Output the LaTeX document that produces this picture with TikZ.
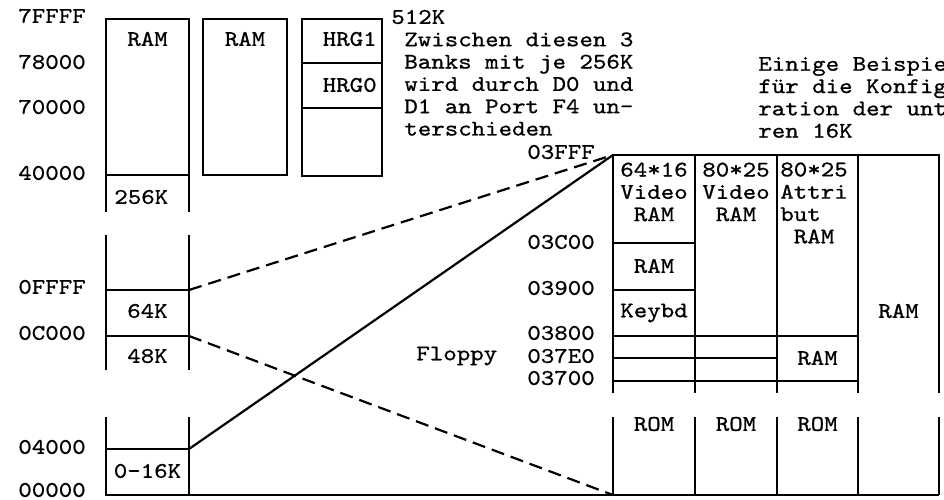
\documentclass[tikz,border=0pt]{standalone}
\usepackage{fontspec}
\setmonofont{lmmono10-regular.otf}[FakeStretch=1.15, FakeBold=0.8]
\begin{document}
\begin{tikzpicture}[x=0.02cm, y=-0.02cm,
    mono/.style={font=\ttfamily\fontsize{12.7}{12.7}\selectfont, inner sep=0pt},
    addr/.style={mono, anchor=west},
    cell/.style={mono, align=center},
    mem/.style={line width=1.25pt},
    link/.style={line width=1.25pt, dash pattern=on 7.5pt off 4pt}
]
\useasboundingbox (0,0) rectangle (944,500);

\node[addr] (a7FFFF) at (18,16) {7FFFF};
\node[addr] (a78000) at (18,62) {78000};
\node[addr] (a70000) at (18,107) {70000};
\node[addr] (a40000) at (18,173) {40000};
\node[addr] (a0FFFF) at (18,287) {0FFFF};
\node[addr] (a0C000) at (18,333) {0C000};
\node[addr] (a04000) at (18,447) {04000};
\node[addr] (a00000) at (18,490) {00000};

\draw[mem] (106,212) -- (106,19) -- (189,19) -- (189,212);
\draw[mem] (106,175) -- (189,175);
\draw[mem] (203,19) rectangle (287,175);
\draw[mem] (302,19) rectangle (382,176);
\draw[mem] (302,63) -- (382,63);
\draw[mem] (302,108) -- (382,108);
\draw[mem] (106,235) -- (106,370);
\draw[mem] (189,235) -- (189,370);
\draw[mem] (106,290) -- (189,290);
\draw[mem] (106,336) -- (189,336);
\draw[mem] (106,417) -- (106,495) -- (939,495);
\draw[mem] (189,417) -- (189,495);
\draw[mem] (106,449) -- (189,449);

\node[cell] (ram1) at (147.5,39) {RAM};
\node[cell] (ram2) at (245,39) {RAM};
\node[mono, anchor=east] (hrg1) at (377,39) {HRG1};
\node[mono, anchor=east] (hrg0) at (377,85) {HRG0};
\node[addr] (k256) at (114,197) {256K};
\node[cell] (k64) at (147.5,311) {64K};
\node[cell] (k48) at (147.5,356) {48K};
\node[cell] (k16) at (147.5,471) {0-16K};

\node[addr] (k512) at (391,17) {512K};
\node[mono, align=left, anchor=west] (banks) at (404,84)
    {Zwischen diesen 3\\Banks mit je 256K\\wird durch D0 und\\D1 an Port F4 un-\\terschieden};
\node[mono, align=left, anchor=west] (beisp) at (758,97.5)
    {Einige Beispie\\für die Konfig\\ration der unt\\ren 16K};

\node[addr] (b03FFF) at (527,152) {03FFF};
\node[addr] (b03C00) at (527,242) {03C00};
\node[addr] (b03900) at (527,288) {03900};
\node[addr] (b03800) at (527,333) {03800};
\node[addr] (b037E0) at (527,356) {037E0};
\node[addr] (b03700) at (527,378) {03700};
\node[addr] (floppy) at (416,356) {Floppy};

\draw[mem] (613,393) -- (613,155) -- (939,155) -- (939,393);
\draw[mem] (695,155) -- (695,393);
\draw[mem] (777,155) -- (777,393);
\draw[mem] (858,155) -- (858,393);
\draw[mem] (613,417) -- (613,495);
\draw[mem] (695,417) -- (695,495);
\draw[mem] (777,417) -- (777,495);
\draw[mem] (858,417) -- (858,495);
\draw[mem] (939,417) -- (939,495);
\draw[mem] (613,243) -- (695,243);
\draw[mem] (613,290) -- (695,290);
\draw[mem] (613,336) -- (858,336);
\draw[mem] (613,358) -- (777,358);
\draw[mem] (613,381) -- (858,381);

\node[cell] (vid64) at (654,192) {64*16\\Video\\RAM};
\node[cell] (vid80) at (736,192) {80*25\\Video\\RAM};
\node[mono, align=left, anchor=west] (attr) at (780,203) {80*25\\Attri\\but\\\ RAM};
\node[cell] (ram3c) at (654,266) {RAM};
\node[cell] (keybd) at (654,313) {Keybd};
\node[cell] (ram37) at (817.5,358) {RAM};
\node[cell] (ramhi) at (898.5,311) {RAM};
\node[cell] (rom1) at (654,424) {ROM};
\node[cell] (rom2) at (736,424) {ROM};
\node[cell] (rom3) at (817.5,424) {ROM};

\coordinate (top64) at (189,290);
\coordinate (top48) at (189,336);
\coordinate (top16) at (189,449);
\coordinate (vtop) at (613,155);
\coordinate (vbot) at (613,495);
\draw[link] (top64) -- (vtop);
\draw[link] (top48) -- (vbot);
\draw[mem] (top16) -- (vtop);

\end{tikzpicture}
\end{document}
